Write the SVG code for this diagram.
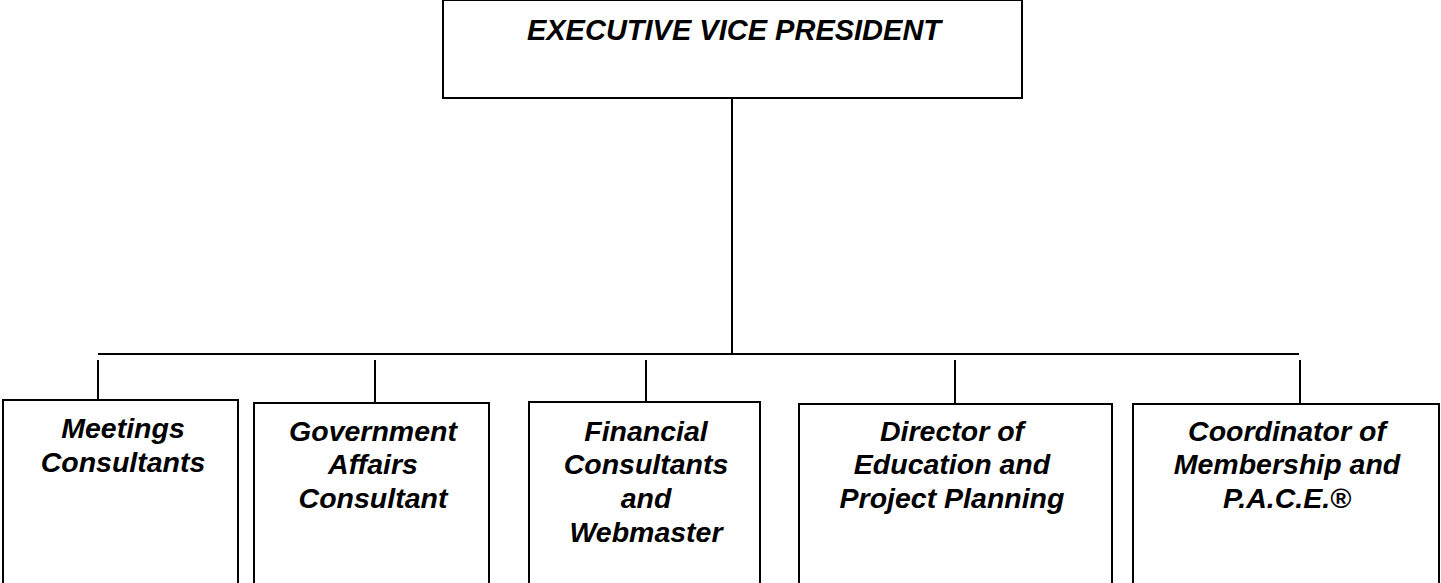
<svg xmlns="http://www.w3.org/2000/svg" width="1441" height="583" viewBox="0 0 1441 583">
<style>
.box{fill:#fff;stroke:#000;stroke-width:2}
.ln{stroke:#000;stroke-width:2;fill:none}
text{font-family:"Liberation Sans",Arial,sans-serif;font-weight:bold;font-style:italic;font-size:28.5px;text-anchor:middle;fill:#000}
</style>
<rect width="1441" height="583" fill="#fff"/>
<g id="connectors">
<line class="ln" x1="732" y1="98" x2="732" y2="354"/>
<line class="ln" x1="98" y1="354" x2="1299" y2="354"/>
<line class="ln" x1="98" y1="360" x2="98" y2="400"/>
<line class="ln" x1="375" y1="360" x2="375" y2="403"/>
<line class="ln" x1="646" y1="360" x2="646" y2="402"/>
<line class="ln" x1="955" y1="360" x2="955" y2="404"/>
<line class="ln" x1="1300" y1="360" x2="1300" y2="404"/>
</g>
<g id="evp">
<rect class="box" x="443" y="0" width="579" height="98"/>
<text x="734" y="40" style="font-size:29px">EXECUTIVE VICE PRESIDENT</text>
</g>
<g id="meetings">
<rect class="box" x="3" y="400" width="235" height="200"/>
<text x="123" y="438">Meetings</text>
<text x="123" y="472">Consultants</text>
</g>
<g id="government">
<rect class="box" x="254" y="403" width="235" height="200"/>
<text x="373" y="441">Government</text>
<text x="373" y="474">Affairs</text>
<text x="373" y="508">Consultant</text>
</g>
<g id="financial">
<rect class="box" x="529" y="402" width="231" height="200"/>
<text x="646" y="441">Financial</text>
<text x="646" y="474">Consultants</text>
<text x="646" y="508">and</text>
<text x="646" y="542">Webmaster</text>
</g>
<g id="director">
<rect class="box" x="799" y="404" width="313" height="200"/>
<text x="952" y="441">Director of</text>
<text x="952" y="474">Education and</text>
<text x="952" y="508">Project Planning</text>
</g>
<g id="coordinator">
<rect class="box" x="1133" y="404" width="306" height="200"/>
<text x="1287" y="441">Coordinator of</text>
<text x="1287" y="474">Membership and</text>
<text x="1287" y="508">P.A.C.E.®</text>
</g>
</svg>
